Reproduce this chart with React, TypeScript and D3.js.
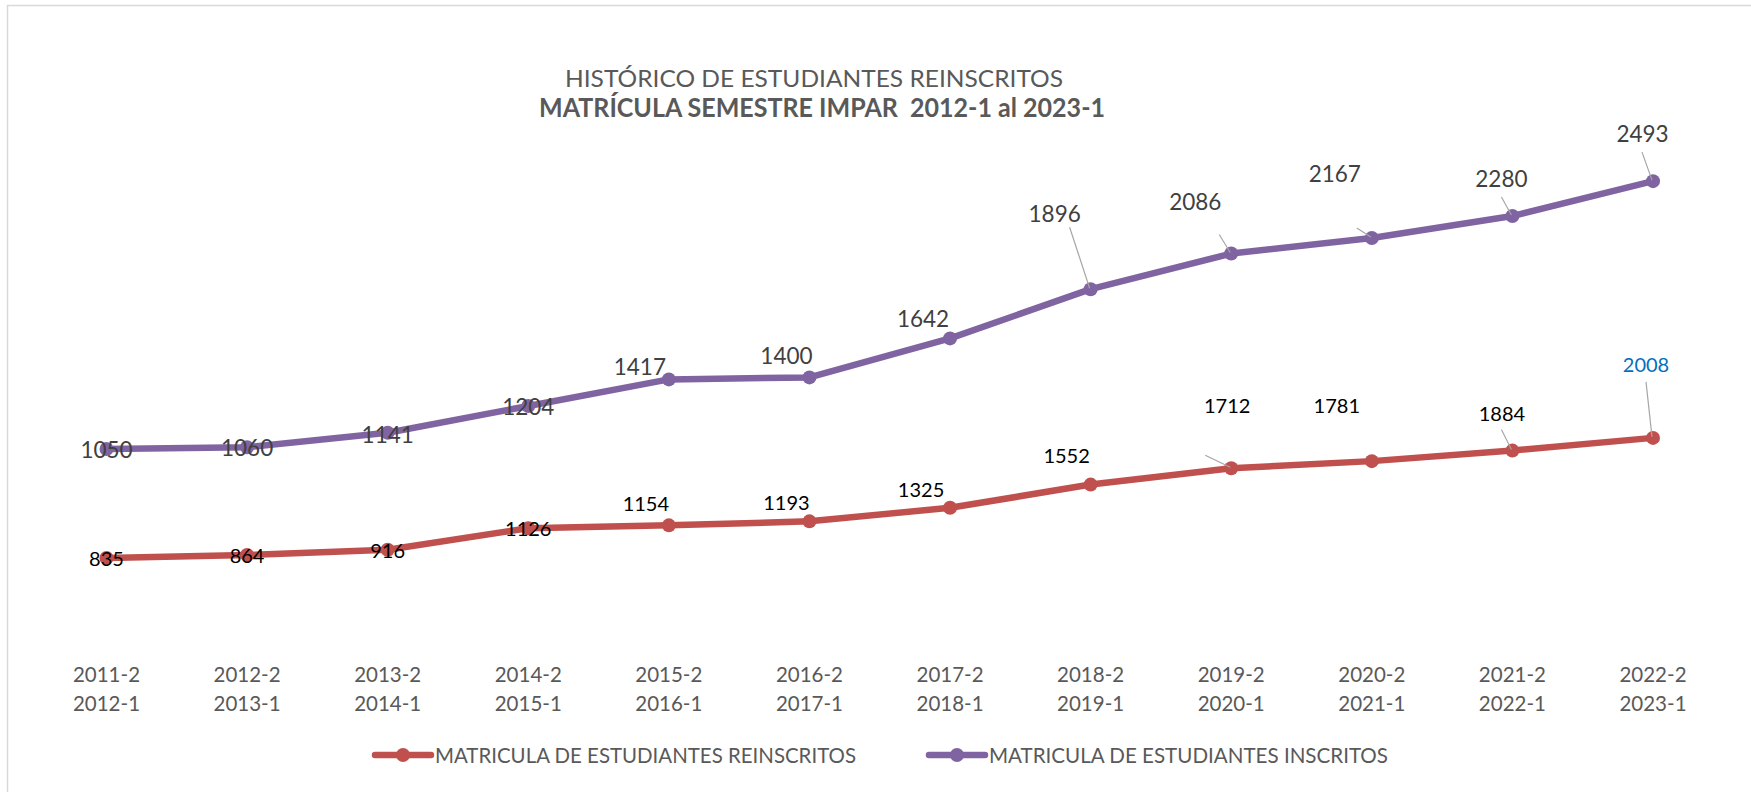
import React from "react";
import * as d3 from "d3";

const categoriesTop = ["2011-2","2012-2","2013-2","2014-2","2015-2","2016-2","2017-2","2018-2","2019-2","2020-2","2021-2","2022-2"];
const categoriesBottom = ["2012-1","2013-1","2014-1","2015-1","2016-1","2017-1","2018-1","2019-1","2020-1","2021-1","2022-1","2023-1"];
const reinscritos = [835, 864, 916, 1126, 1154, 1193, 1325, 1552, 1712, 1781, 1884, 2008];
// label texts of the "inscritos" series
const inscritos = [1050, 1060, 1141, 1204, 1417, 1400, 1642, 1896, 2086, 2167, 2280, 2493];
// plotted positions of the "inscritos" series
const inscritosPlotted = [1050, 1060, 1138, 1282, 1425, 1436, 1646, 1911, 2103, 2187, 2305, 2493];

const titleLine1 = "HISTÓRICO DE ESTUDIANTES REINSCRITOS";
const titleLine2 = "MATRÍCULA SEMESTRE IMPAR  2012-1 al 2023-1";
const legendReins = "MATRICULA DE ESTUDIANTES REINSCRITOS";
const legendIns = "MATRICULA DE ESTUDIANTES INSCRITOS";

// label offsets (dx, dy of baseline) relative to point
const insLabelOff: [number, number][] = [[0,9],[0,9],[0,10],[0,9],[-29,-4],[-23,-13],[-27,-11],[-36,-67],[-36,-44],[-37,-56],[-11,-29],[-10.5,-39]];
const reinsLabelOff: [number, number][] = [[0,8],[0,8],[0,8],[0,7.5],[-23,-14.5],[-23,-11.5],[-29,-11],[-24,-22],[-4,-55],[-35,-48],[-10.5,-30],[-7,-66]];
// leader start offsets relative to point (null = none)
const insLeader: ([number, number] | null)[] = [null,null,null,null,null,null,null,[-21,-62],[-12,-19],[-15,-10],[-11,-19],[-11,-29]];
const reinsLeader: ([number, number] | null)[] = [null,null,null,null,null,null,null,null,[-26,-13],null,[-11,-21],[-7,-56]];

const FONT = "Lato, 'Open Sans', sans-serif";
const PURPLE = "#8064A2";
const RED = "#C0504D";

export default function App() {
  const x = d3.scalePoint<number>().domain(d3.range(12)).range([106.5, 1653]);
  const yIns = d3.scaleLinear().domain([0, 3000]).range([644, 87]);
  const yReins = d3.scaleLinear().domain([0, 6000]).range([643.5, 29.1]);

  const lineIns = d3.line<number>().x((_, i) => x(i)!).y((d) => yIns(d));
  const lineReins = d3.line<number>().x((_, i) => x(i)!).y((d) => yReins(d));

  const series = [
    { data: reinscritos, labels: reinscritos, y: yReins, line: lineReins, color: RED, off: reinsLabelOff, leader: reinsLeader, fs: 20, labelColor: (i: number) => (i === 11 ? "#0070C0" : "#000000") },
    { data: inscritosPlotted, labels: inscritos, y: yIns, line: lineIns, color: PURPLE, off: insLabelOff, leader: insLeader, fs: 22.5, labelColor: () => "#404040" },
  ];

  return (
    <svg width={1751} height={792} style={{ position: "absolute", left: 0, top: 0, background: "#fff" }} fontFamily={FONT}>
      <rect x={0} y={0} width={1751} height={792} fill="#fff" />
      <path d="M7.5,800 L7.5,5.5 L1760,5.5" fill="none" stroke="#D9D9D9" strokeWidth={1.5} />
      <text x={814} y={86.7} textAnchor="middle" fontSize={24} fill="#595959" textLength={498} lengthAdjust="spacingAndGlyphs">{titleLine1}</text>
      <text x={822} y={116.7} textAnchor="middle" fontSize={26} fontWeight="bold" fill="#595959" textLength={566} lengthAdjust="spacingAndGlyphs" style={{ whiteSpace: "pre" }}>{titleLine2}</text>

      {series.map((s, si) => (
        <g key={si}>
          <path d={s.line(s.data)!} fill="none" stroke={s.color} strokeWidth={6.5} strokeLinejoin="round" strokeLinecap="round" />
          {s.data.map((d, i) => (
            <circle key={i} cx={x(i)} cy={s.y(d)} r={7} fill={s.color} />
          ))}
        </g>
      ))}
      {series.map((s, si) => (
        <g key={"l" + si}>
          {s.data.map((d, i) => {
            const px = x(i)!;
            const py = s.y(d);
            const ld = s.leader[i];
            return (
              <g key={i}>
                {ld && <line x1={px + ld[0]} y1={py + ld[1]} x2={px - 1} y2={py - 1} stroke="#A6A6A6" strokeWidth={1.2} />}
                <text x={px + s.off[i][0]} y={py + s.off[i][1]} textAnchor="middle" fontSize={s.fs} fill={s.labelColor(i)}>{s.labels[i]}</text>
              </g>
            );
          })}
        </g>
      ))}

      {categoriesTop.map((c, i) => (
        <g key={c} fill="#595959" fontSize={20.5}>
          <text x={x(i)} y={682.3} textAnchor="middle">{c}</text>
          <text x={x(i)} y={711} textAnchor="middle">{categoriesBottom[i]}</text>
        </g>
      ))}

      <g>
        <line x1={375} x2={431} y1={755} y2={755} stroke={RED} strokeWidth={6.5} strokeLinecap="round" />
        <circle cx={403} cy={755} r={7} fill={RED} />
        <text x={435} y={763} fontSize={21} fill="#595959" textLength={421} lengthAdjust="spacingAndGlyphs">{legendReins}</text>
        <line x1={929} x2={985} y1={755} y2={755} stroke={PURPLE} strokeWidth={6.5} strokeLinecap="round" />
        <circle cx={957} cy={755} r={7} fill={PURPLE} />
        <text x={989} y={763} fontSize={21} fill="#595959" textLength={399} lengthAdjust="spacingAndGlyphs">{legendIns}</text>
      </g>
    </svg>
  );
}
